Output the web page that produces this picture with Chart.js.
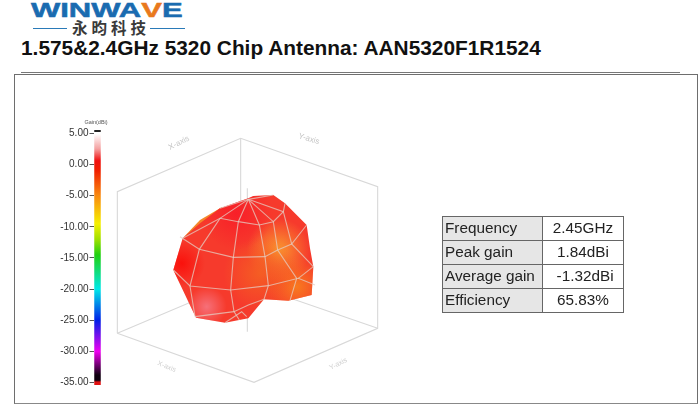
<!DOCTYPE html>
<html>
<head>
<meta charset="utf-8">
<script src="https://cdn.jsdelivr.net/npm/chart.js@4/dist/chart.umd.min.js"></script>
<style>
html, body { margin: 0; padding: 0; background: #fff; }
body { position: relative; width: 700px; height: 414px; overflow: hidden; font-family: "Liberation Sans", Arial, sans-serif; }
#chart { position: absolute; left: 0; top: 0; filter: blur(0.4px); }
#frame { position: absolute; left: 14px; top: 74px; width: 682px; height: 328px; border: 1.5px solid #6e6e6e; border-bottom-color: #888; box-sizing: content-box; }
#rule { position: absolute; left: 21px; top: 71.5px; width: 659px; height: 1.5px; background: #777; }
#title { position: absolute; left: 21px; top: 36px; font-weight: bold; font-size: 20.85px; color: #111; white-space: nowrap; }
#logo { position: absolute; left: 31px; top: -1px; font-weight: bold; font-size: 20px; line-height: 23px; color: #1a6bb0; transform: scaleX(1.55); transform-origin: 0 0; white-space: nowrap; -webkit-text-stroke: 0.5px #1a6bb0; }
#logo b { color: #e9791c; -webkit-text-stroke: 0.5px #e9791c; }
#cn { position: absolute; left: 72px; top: 17px; font-family: "Noto Sans CJK SC"; font-weight: bold; font-size: 15.5px; line-height: 21px; letter-spacing: 4px; color: #3a3a3a; white-space: nowrap; }
.blue { position: absolute; top: 27.5px; height: 1.2px; background: #2a7ab8; }
#info { position: absolute; left: 442px; top: 215.5px; width: 182px; border-collapse: collapse; font-size: 15.3px; color: #222; table-layout: fixed; }
#info td { border: 1.3px solid #666; padding: 0 0 0 2px; height: 23px; line-height: 20px; white-space: pre; }
#info td:first-child { width: 97px; background: #e6e6e6; }
#info td:last-child { text-align: center; padding: 0; }
</style>
</head>
<body>
<div id="logo">WINWA<b>V</b>E</div>
<div class="blue" style="left:33px;width:34px"></div>
<div id="cn">永昀科技</div>
<div class="blue" style="left:150px;width:35px"></div>
<div id="title">1.575&amp;2.4GHz 5320 Chip Antenna: AAN5320F1R1524</div>
<div id="rule"></div>
<div id="frame"></div>
<canvas id="chart" width="700" height="414"></canvas>
<table id="info"></table>
<script>
document.addEventListener('DOMContentLoaded', init);

// gain colour bar
const gainTicks = [5, 0, -5, -10, -15, -20, -25, -30, -35];
const gainStops = [5.53, 5.25, 5.15, 4.9, 2.5, 0.6, -1, -5, -9.5, -12, -14.5, -20, -25, -30, -33.8, -34.6, -34.9, -35.37];
const gainColors = ['#222', '#222', '#fff', '#fff', '#f4a0a0', '#f01010', '#f02000', '#f98a10', '#f5f000', '#a0e000', '#20d010', '#00e8e8', '#0020e8', '#f000f0', '#100010', '#100010', '#e01010', '#e01010'];

// table
const tableNames = ['Frequency', 'Peak gain', 'Average gain', 'Efficiency'];
const tableValues = ['2.45GHz', '1.84dBi', ' -1.32dBi', '65.83%'];

const boxEdges = [
    [[22, 490], [22, 65], [392, -95], [803, 50], [803, 475], [432, 637], [22, 490]],
    [[22, 490], [392, 333], [803, 475]],
    [[392, -95], [392, 333]],
    [[412, 55], [412, 485]],
];

// outline of the pattern, and the back lobe peeking out top left
const outline = [[430, 78], [490, 75], [525, 100], [590, 165], [600, 235], [610, 290], [605, 375], [535, 392], [462, 388], [415, 445], [345, 458], [258, 443], [235, 395], [190, 300], [218, 205], [270, 160], [330, 115], [415, 85], [430, 78]];
const backLobe = [[218, 205], [270, 150], [335, 112], [345, 118], [330, 145], [268, 195], [218, 205]];

// colour patches over the outline: centre x, centre y, radius, colour
const spotX = [505, 560, 215, 290, 450, 380];
const spotY = [240, 350, 280, 410, 310, 130];
const spotR = [95, 90, 70, 60, 110, 110];
const spotColor = ['250,158,48', '248,125,30', '250,15,10', '246,115,125', '245,95,35', '248,30,40'];

// mesh drawn on the surface
const meshLines = [
    [[415, 88], [385, 155], [370, 262], [362, 360], [372, 425], [388, 450]],
    [[415, 88], [330, 145], [268, 238], [240, 348], [255, 440]],
    [[415, 88], [448, 165], [465, 260], [475, 347], [462, 388]],
    [[415, 88], [490, 155], [503, 240], [560, 325], [540, 392]],
    [[415, 88], [520, 125], [545, 222], [610, 290]],
    [[415, 88], [490, 75]],
    [[415, 88], [330, 115]],
    [[218, 205], [330, 145], [385, 155], [448, 165], [490, 155], [520, 125], [525, 100]],
    [[210, 200], [268, 238], [370, 262], [465, 260], [503, 240], [545, 222], [590, 165]],
    [[190, 300], [240, 348], [362, 360], [475, 347], [565, 325], [615, 345]],
    [[565, 325], [610, 290]],
    [[255, 440], [372, 425], [415, 405], [462, 388]],
    [[345, 458], [395, 425], [410, 440]],
];

// small axis captions
const labelText = ['Gain(dBi)', 'X-axis', 'Y-axis', 'X-axis', 'Y-axis'];
const labelX = [-42, 207, 597, 170, 685];
const labelY = [-144, -81, -93, 590, 582];
const labelAngle = [0, -27, 17, 22, -27];
const labelSize = [5.5, 8, 8, 7, 7];
const labelColor = ['#555', '#c4c4c4', '#c4c4c4', '#cfcfcf', '#cfcfcf'];

function toPoints(list) {
    return list.map(p => ({ x: p[0], y: p[1] }));
}

function sceneSet(list, extra) {
    return Object.assign({
        type: 'scatter',
        showLine: true,
        xAxisID: 'x',
        yAxisID: 'scene',
        pointRadius: 0,
        tension: 0,
        data: toPoints(list),
    }, extra);
}

function barGradient(ctx) {
    const chart = ctx.chart;
    if (!chart.chartArea) return '#f00';
    const scale = chart.scales.gain;
    const top = scale.getPixelForValue(gainStops[0]);
    const bottom = scale.getPixelForValue(gainStops[gainStops.length - 1]);
    const g = chart.ctx.createLinearGradient(0, top, 0, bottom);
    gainStops.forEach((v, i) => {
        g.addColorStop((scale.getPixelForValue(v) - top) / (bottom - top), gainColors[i]);
    });
    return g;
}

function spotGradient(i) {
    return function (ctx) {
        const chart = ctx.chart;
        if (!chart.chartArea) return 'transparent';
        const x = chart.scales.x.getPixelForValue(spotX[i]);
        const y = chart.scales.scene.getPixelForValue(spotY[i]);
        const g = chart.ctx.createRadialGradient(x, y, 0, x, y, spotR[i] / 3);
        g.addColorStop(0, 'rgba(' + spotColor[i] + ',0.95)');
        g.addColorStop(1, 'rgba(' + spotColor[i] + ',0)');
        return g;
    };
}

const captions = {
    id: 'captions',
    afterDatasetsDraw(chart) {
        const c = chart.ctx;
        labelText.forEach((t, i) => {
            c.save();
            c.translate(chart.scales.x.getPixelForValue(labelX[i]), chart.scales.scene.getPixelForValue(labelY[i]));
            c.rotate(labelAngle[i] * Math.PI / 180);
            c.font = labelSize[i] + 'px "Liberation Sans"';
            c.fillStyle = labelColor[i];
            c.textAlign = 'center';
            c.textBaseline = 'middle';
            c.fillText(t, 0, 0);
            c.restore();
        });
    },
};

function init() {
    tableNames.forEach((n, i) => {
        const row = document.getElementById('info').insertRow();
        row.insertCell().textContent = n;
        row.insertCell().textContent = tableValues[i];
    });

    const datasets = [];
    meshLines.forEach(l => {
        datasets.push(sceneSet(l, { order: 1, borderColor: 'rgba(228,205,195,0.75)', borderWidth: 1.1 }));
    });
    spotX.forEach((x, i) => {
        datasets.push(sceneSet(outline, { order: 2 + spotX.length - i, borderWidth: 0, fill: 'shape', backgroundColor: spotGradient(i) }));
    });
    datasets.push(sceneSet(outline, { order: 20, borderWidth: 0, fill: 'shape', backgroundColor: '#f63a2c' }));
    datasets.push(sceneSet(backLobe, { order: 21, borderWidth: 0, fill: 'shape', backgroundColor: '#f4872a' }));
    boxEdges.forEach(l => {
        datasets.push(sceneSet(l, { order: 30, borderColor: '#d8d8d8', borderWidth: 1.1 }));
    });
    datasets.push({
        type: 'scatter',
        showLine: true,
        order: 40,
        xAxisID: 'x',
        yAxisID: 'gain',
        pointRadius: 0,
        borderWidth: 6.5,
        borderColor: barGradient,
        data: [{ x: -37.5, y: gainStops[0] }, { x: -37.5, y: gainStops[gainStops.length - 1] }],
    });

    new Chart(document.getElementById('chart').getContext('2d'), {
        data: { datasets: datasets },
        options: {
            responsive: false,
            animation: false,
            layout: { padding: { top: 130, right: 310, bottom: 29, left: 0 } },
            plugins: { legend: { display: false }, tooltip: { enabled: false } },
            scales: {
                x: { type: 'linear', display: false, min: -48, max: 840 },
                scene: { type: 'linear', display: false, reverse: true, min: -120, max: 645 },
                gain: {
                    type: 'linear',
                    position: 'left',
                    min: -35.37,
                    max: 5.53,
                    afterFit: s => { s.width = 94; },
                    afterBuildTicks: s => { s.ticks = gainTicks.map(v => ({ value: v })); },
                    border: { display: false },
                    grid: { drawOnChartArea: false, tickLength: 4.5, tickColor: '#555' },
                    ticks: {
                        autoSkip: false,
                        padding: 1,
                        color: '#333',
                        font: { family: '"Liberation Sans"', size: 10 },
                        callback: v => v.toFixed(2),
                    },
                },
            },
        },
        plugins: [captions],
    });
}
</script>
</body>
</html>
